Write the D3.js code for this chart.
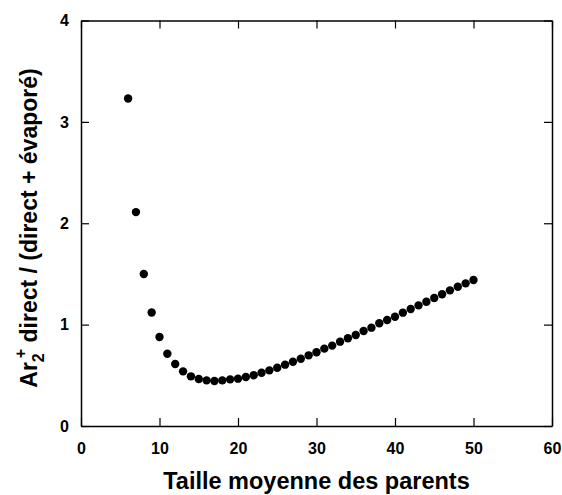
<!DOCTYPE html>
<html><head><meta charset="utf-8">
<script src="https://cdn.jsdelivr.net/npm/d3@7"></script>
<style>body{margin:0;background:#fff}svg{display:block}text{font-family:"Liberation Sans",Arial,sans-serif;font-weight:bold;fill:#000}</style>
</head><body>
<script>
const sizes = [6,7,8,9,10,11,12,13,14,15,16,17,18,19,20,21,22,23,24,25,26,27,28,29,30,31,32,33,34,35,36,37,38,39,40,41,42,43,44,45,46,47,48,49,50];
const ratios = [3.23,2.11,1.50,1.12,0.878,0.713,0.611,0.539,0.490,0.463,0.450,0.444,0.450,0.460,0.467,0.483,0.500,0.526,0.549,0.575,0.605,0.634,0.664,0.697,0.728,0.763,0.793,0.832,0.865,0.897,0.937,0.970,1.013,1.045,1.078,1.118,1.154,1.190,1.226,1.262,1.299,1.338,1.374,1.407,1.440];
const xTicks = [0,10,20,30,40,50,60];
const yTicks = [0,1,2,3,4];
const xTitle = "Taille moyenne des parents";

const W=562,H=495;
const m={l:81,r:10,t:20.5,b:69};
const svg=d3.select("body").append("svg").attr("width",W).attr("height",H);
const x=d3.scaleLinear().domain([0,60]).range([m.l,W-m.r]);
const y=d3.scaleLinear().domain([0,4]).range([H-m.b,m.t]);
const tl=8;
const g=svg.append("g");
const fmt=d3.format("d");
const ax=d3.axisBottom(x).tickValues(xTicks).tickFormat(fmt).tickSizeInner(-tl).tickSizeOuter(0).tickPadding(17);
const ay=d3.axisLeft(y).tickValues(yTicks).tickFormat(fmt).tickSizeInner(-tl).tickSizeOuter(0).tickPadding(12);
const axT=d3.axisTop(x).tickValues(xTicks).tickSizeInner(-tl).tickSizeOuter(0).tickFormat("");
const ayR=d3.axisRight(y).tickValues(yTicks).tickSizeInner(-tl).tickSizeOuter(0).tickFormat("");
function style(s){s.selectAll("path").attr("stroke","#000").attr("stroke-width",1.5);s.selectAll("line").attr("stroke","#000").attr("stroke-width",1.2);s.selectAll("text").attr("font-size",16).attr("font-family","Liberation Sans, Arial, sans-serif").attr("font-weight","bold").attr("fill","#000");}
g.append("g").attr("transform",`translate(0,${y(0)})`).call(ax).call(style);
g.append("g").attr("transform",`translate(${x(0)},0)`).call(ay).call(style);
g.append("g").attr("transform",`translate(0,${y(4)})`).call(axT).call(style);
g.append("g").attr("transform",`translate(${x(60)},0)`).call(ayR).call(style);
svg.append("g").selectAll("circle").data(sizes).join("circle")
  .attr("cx",(d)=>x(d)).attr("cy",(d,i)=>y(ratios[i])).attr("r",4.2).attr("fill","#000");
svg.append("text").attr("x",(x(0)+x(60))/2).attr("y",489).attr("text-anchor","middle").attr("font-size",23.5).text(xTitle);
const yt=svg.append("text").attr("transform",`translate(37,228) rotate(-90)`).attr("text-anchor","middle").attr("font-size",23);
yt.append("tspan").text("Ar");
yt.append("tspan").attr("font-size",16).attr("dy",7).text("2");
yt.append("tspan").attr("font-size",16).attr("dy",-18).attr("dx",-5).text("+");
yt.append("tspan").attr("dy",11).text(" direct / (direct + évaporé)");
</script>
</body></html>
